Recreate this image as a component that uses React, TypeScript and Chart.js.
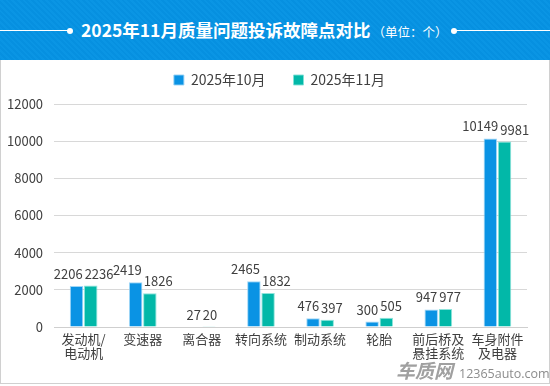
import React, { useEffect, useRef } from "react";
import { Chart, registerables } from "chart.js";
Chart.register(...registerables);

const FONT = '"Noto Sans CJK SC", "Noto Sans", sans-serif';

const categories: string[][] = [
  ["发动机/", "电动机"],
  ["变速器"],
  ["离合器"],
  ["转向系统"],
  ["制动系统"],
  ["轮胎"],
  ["前后桥及", "悬挂系统"],
  ["车身附件", "及电器"],
];
const seriesNames = ["2025年10月", "2025年11月"];
const octValues = [2206, 2419, 27, 2465, 476, 300, 947, 10149];
const novValues = [2236, 1826, 20, 1832, 397, 505, 977, 9981];
const yMin = 0;
const yMax = 12000;
const yStep = 2000;

const BLUE = "#0A93E4";
const GREEN = "#02B8A8";

export default function App() {
  const ref = useRef<HTMLCanvasElement>(null);

  useEffect(() => {
    if (!ref.current) return;

    const labelPlugin = {
      id: "barLabels",
      afterDatasetsDraw(chart: any) {
        const ctx = chart.ctx;
        ctx.save();
        ctx.font = `13px ${FONT}`;
        ctx.fillStyle = "#404040";
        ctx.textAlign = "center";
        ctx.textBaseline = "alphabetic";
        const m0 = chart.getDatasetMeta(0);
        const m1 = chart.getDatasetMeta(1);
        const n = chart.data.labels.length;
        for (let i = 0; i < n; i++) {
          const e0 = m0.data[i];
          const e1 = m1.data[i];
          const t0 = String(chart.data.datasets[0].data[i]);
          const t1 = String(chart.data.datasets[1].data[i]);
          const w0 = ctx.measureText(t0).width;
          const w1 = ctx.measureText(t1).width;
          let x0 = e0.x;
          let x1 = e1.x;
          const y0 = e0.y - 7;
          const y1 = e1.y - 7;
          const need = (w0 + w1) / 2 + 2;
          if (x1 - x0 < need && Math.abs(y0 - y1) < 14) {
            const s = (need - (x1 - x0)) / 2;
            x0 -= s;
            x1 += s;
          }
          ctx.fillText(t0, x0, y0);
          ctx.fillText(t1, x1, y1);
        }
        ctx.restore();
      },
    };

    const legendPatch = {
      id: "legendPatch",
      beforeUpdate(chart: any) {
        const lg = chart.legend;
        if (lg && !lg._patched) {
          lg._patched = true;
          const f = lg.fit;
          lg.fit = function () {
            f.call(this);
            this.height = 59;
          };
        }
      },
      afterLayout(chart: any) {
        const lg = chart.legend;
        if (lg) {
          lg.left += 18;
          lg.right += 18;
        }
      },
    };

    const chart = new Chart(ref.current, {
      type: "bar",
      data: {
        labels: categories,
        datasets: [
          {
            label: seriesNames[0],
            data: octValues,
            backgroundColor: BLUE,
            borderColor: "rgba(150,210,245,0.9)",
            borderWidth: 1,
            categoryPercentage: 0.48,
            barPercentage: 0.95,
          },
          {
            label: seriesNames[1],
            data: novValues,
            backgroundColor: GREEN,
            borderColor: "rgba(130,225,215,0.9)",
            borderWidth: 1,
            categoryPercentage: 0.48,
            barPercentage: 0.95,
          },
        ],
      },
      options: {
        responsive: false,
        animation: false,
        devicePixelRatio: 1,
        layout: { padding: { left: -4, right: 23, top: -15, bottom: 21 } },
        plugins: {
          legend: {
            position: "top",
            align: "center",
            labels: {
              boxWidth: 10,
              boxHeight: 10,
              padding: 28,
              color: "#404040",
              font: { family: FONT, size: 14 },
            },
          },
          tooltip: { enabled: false },
        },
        scales: {
          x: {
            grid: { display: false, drawTicks: false },
            border: { color: "#cfcfcf", width: 1 },
            ticks: {
              color: "#404040",
              font: { family: FONT, size: 13, lineHeight: 1.15 },
              padding: 4,
              maxRotation: 0,
              autoSkip: false,
            },
          },
          y: {
            min: yMin,
            max: yMax,
            ticks: {
              stepSize: yStep,
              color: "#404040",
              font: { family: FONT, size: 13 },
              padding: 11,
              callback: (v: any) => String(v),
            },
            grid: { color: "#d8d8d8", drawTicks: false, lineWidth: 1 },
            border: { display: false },
          },
        },
      },
      plugins: [labelPlugin, legendPatch],
    });
    return () => chart.destroy();
  }, []);

  return (
    <div style={{ position: "absolute", left: 0, top: 0, width: 550, height: 386, background: "#fff", overflow: "hidden", fontFamily: FONT }}>
      <div
        style={{
          position: "absolute",
          left: 0,
          top: 0,
          width: 550,
          height: 60,
          background: "repeating-linear-gradient(45deg, #0690e0 0px, #0690e0 2px, #0a95e4 2px, #0a95e4 4px)",
        }}
      >
        <div style={{ position: "absolute", left: 0, top: 30, width: 68, height: 1, background: "#fff" }} />
        <div style={{ position: "absolute", left: 67, top: 27.5, width: 6, height: 6, borderRadius: 3, background: "#fff" }} />
        <div style={{ position: "absolute", left: 451, top: 27.5, width: 6, height: 6, borderRadius: 3, background: "#fff" }} />
        <div style={{ position: "absolute", left: 455, top: 30, width: 95, height: 1, background: "#fff" }} />
        <div
          style={{
            position: "absolute",
            left: 81,
            top: 17,
            height: 26,
            lineHeight: "26px",
            whiteSpace: "nowrap",
            color: "#fff",
            fontWeight: 700,
            fontSize: 17.5,
          }}
        >
          2025年11月质量问题投诉故障点对比
          <span style={{ fontWeight: 400, fontSize: 12.5, marginLeft: 2 }}>（单位：个）</span>
        </div>
      </div>
      <canvas ref={ref} width={550} height={326} style={{ position: "absolute", left: 0, top: 60, width: 550, height: 326 }} />
      <div
        style={{
          position: "absolute",
          left: 0,
          top: 60,
          width: 548,
          height: 323,
          borderLeft: "1.5px solid #d0d0d0",
          borderRight: "1.5px solid #d0d0d0",
          borderBottom: "1.5px solid #d0d0d0",
          pointerEvents: "none",
        }}
      />
      <div style={{ position: "absolute", left: 396, top: 359, color: "#a0a0a0", fontSize: 19, fontWeight: 700, fontStyle: "italic", lineHeight: "22px", whiteSpace: "nowrap" }}>
        车质网
      </div>
      <div style={{ position: "absolute", left: 459, top: 366, color: "#8c8c8c", fontSize: 12.5, lineHeight: "16px", whiteSpace: "nowrap", fontFamily: '"Open Sans", sans-serif' }}>
        12365auto.com
      </div>
    </div>
  );
}
